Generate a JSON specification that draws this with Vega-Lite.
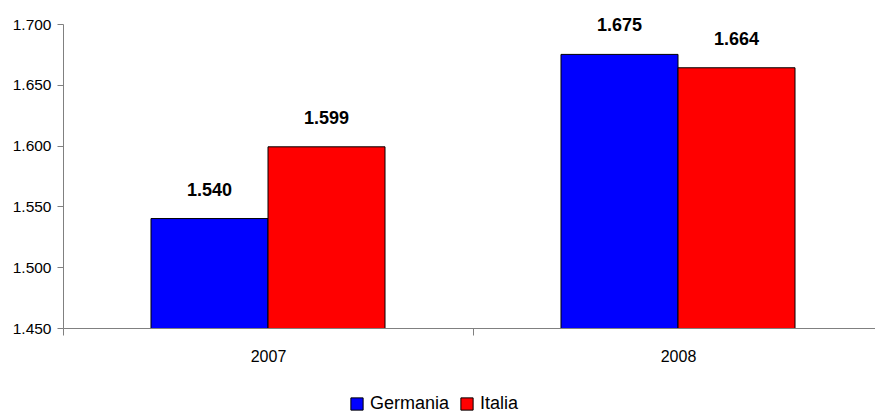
{
  "$schema": "https://vega.github.io/schema/vega-lite/v6.json",
  "autosize": {"type": "none"},
  "padding": {"left": 63, "top": 24, "right": 0, "bottom": 86},
  "width": 820,
  "height": 304,
  "background": "white",
  "config": {
    "view": {"stroke": null},
    "locale": {"number": {"decimal": ",", "thousands": ".", "grouping": [3], "currency": ["€", ""]}},
    "font": "Liberation Sans"
  },
  "data": {
    "values": [
      {"year": "2007", "country": "Germania", "value": 1540},
      {"year": "2007", "country": "Italia", "value": 1599},
      {"year": "2008", "country": "Germania", "value": 1675},
      {"year": "2008", "country": "Italia", "value": 1664}
    ]
  },
  "encoding": {
    "x": {
      "field": "year", "type": "nominal",
      "scale": {"paddingInner": 0, "paddingOuter": 0},
      "axis": {
        "title": null, "labelAngle": 0, "tickBand": "extent",
        "domainColor": "#808080", "tickColor": "#808080", "tickSize": 7,
        "labelFont": "Liberation Sans", "labelFontSize": 16, "labelColor": "black",
        "labelPadding": 13
      }
    },
    "xOffset": {"field": "country", "type": "nominal", "scale": {"paddingOuter": 0.752, "paddingInner": 0}},
    "y": {
      "field": "value", "type": "quantitative",
      "scale": {"domain": [1450, 1700], "zero": false, "nice": false},
      "axis": {
        "title": null, "values": [1450, 1500, 1550, 1600, 1650, 1700], "format": ",d",
        "grid": false, "domainColor": "#808080", "tickColor": "#808080", "tickSize": 6,
        "labelFont": "Liberation Sans", "labelFontSize": 15.5, "labelColor": "black",
        "labelPadding": 6
      }
    }
  },
  "layer": [
    {
      "mark": {"type": "bar", "stroke": "black", "strokeWidth": 1, "clip": true},
      "encoding": {
        "color": {
          "field": "country", "type": "nominal",
          "scale": {"domain": ["Germania", "Italia"], "range": ["#0000FF", "#FF0000"]},
          "legend": {
            "title": null, "orient": "none", "direction": "horizontal",
            "legendX": 285, "legendY": 371,
            "symbolType": "square", "symbolSize": 150, "symbolStrokeColor": "black", "symbolStrokeWidth": 1,
            "labelFont": "Liberation Sans", "labelFontSize": 18, "labelColor": "black",
            "columnPadding": 8, "labelOffset": 4
          }
        }
      }
    },
    {
      "mark": {"type": "text", "fontWeight": "bold", "fontSize": 18, "font": "Liberation Sans", "baseline": "alphabetic", "dy": -23, "color": "black"},
      "encoding": {
        "text": {"field": "value", "type": "quantitative", "format": ",d"}
      }
    }
  ]
}
